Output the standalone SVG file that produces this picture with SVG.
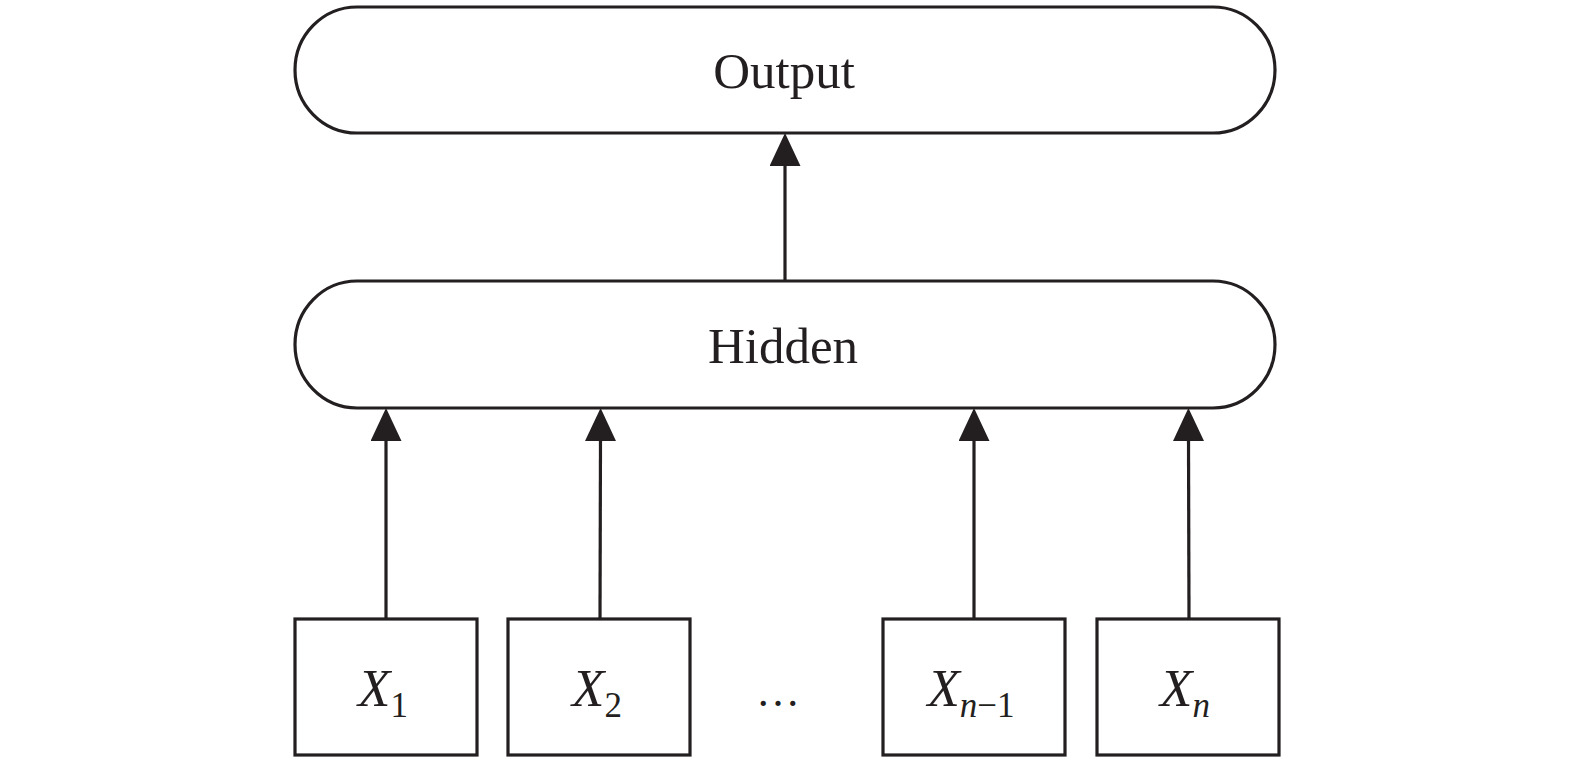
<svg xmlns="http://www.w3.org/2000/svg" width="1575" height="770" viewBox="0 0 1575 770">
<style>
.box{fill:#fff;stroke:#231f20;stroke-width:3.2}
.lbl{font-family:"Liberation Serif","Times New Roman",serif;font-size:51px;fill:#231f20;text-anchor:middle}
.var{font-family:"Liberation Serif","Times New Roman",serif;font-size:53px;fill:#231f20;text-anchor:middle;font-style:italic}
.sub{font-size:35px}
.conn{stroke:#231f20;stroke-width:3.2;fill:none}
</style>
<defs>
<marker id="arr" markerUnits="userSpaceOnUse" viewBox="0 0 33 31" refX="0" refY="15.5" markerWidth="33" markerHeight="31" orient="auto">
<path d="M0,0 L33,15.5 L0,31 z" fill="#231f20"/>
</marker>
</defs>
<rect width="1575" height="770" fill="#fff"/>
<g id="connectors">
<line class="conn" x1="785" y1="281" x2="785" y2="166" marker-end="url(#arr)"/>
<line class="conn" x1="386" y1="619" x2="386" y2="441" marker-end="url(#arr)"/>
<line class="conn" x1="600" y1="619" x2="600.5" y2="441" marker-end="url(#arr)"/>
<line class="conn" x1="974" y1="619" x2="974" y2="441" marker-end="url(#arr)"/>
<line class="conn" x1="1189" y1="619" x2="1188.5" y2="441" marker-end="url(#arr)"/>
</g>
<g id="output">
<rect class="box" x="295" y="7" width="980" height="126" rx="62" ry="63"/>
<text class="lbl" x="784" y="88">Output</text>
</g>
<g id="hidden">
<rect class="box" x="295" y="281" width="980" height="127" rx="62" ry="63.5"/>
<text class="lbl" x="783" y="363">Hidden</text>
</g>
<g id="x1">
<rect class="box" x="295" y="619" width="182" height="136"/>
<text class="var" x="383" y="706">X<tspan class="sub" font-style="normal" dy="11">1</tspan></text>
</g>
<g id="x2">
<rect class="box" x="508" y="619" width="182" height="136"/>
<text class="var" x="597" y="706">X<tspan class="sub" font-style="normal" dy="11">2</tspan></text>
</g>
<g id="ellipsis">
<text class="lbl" x="778" y="706" style="font-size:44px">…</text>
</g>
<g id="xn1">
<rect class="box" x="883" y="619" width="182" height="136"/>
<text class="var" x="971" y="706">X<tspan class="sub" dy="11">n</tspan><tspan class="sub" font-style="normal">−1</tspan></text>
</g>
<g id="xn">
<rect class="box" x="1097" y="619" width="182" height="136"/>
<text class="var" x="1185" y="706">X<tspan class="sub" dy="11">n</tspan></text>
</g>
</svg>
